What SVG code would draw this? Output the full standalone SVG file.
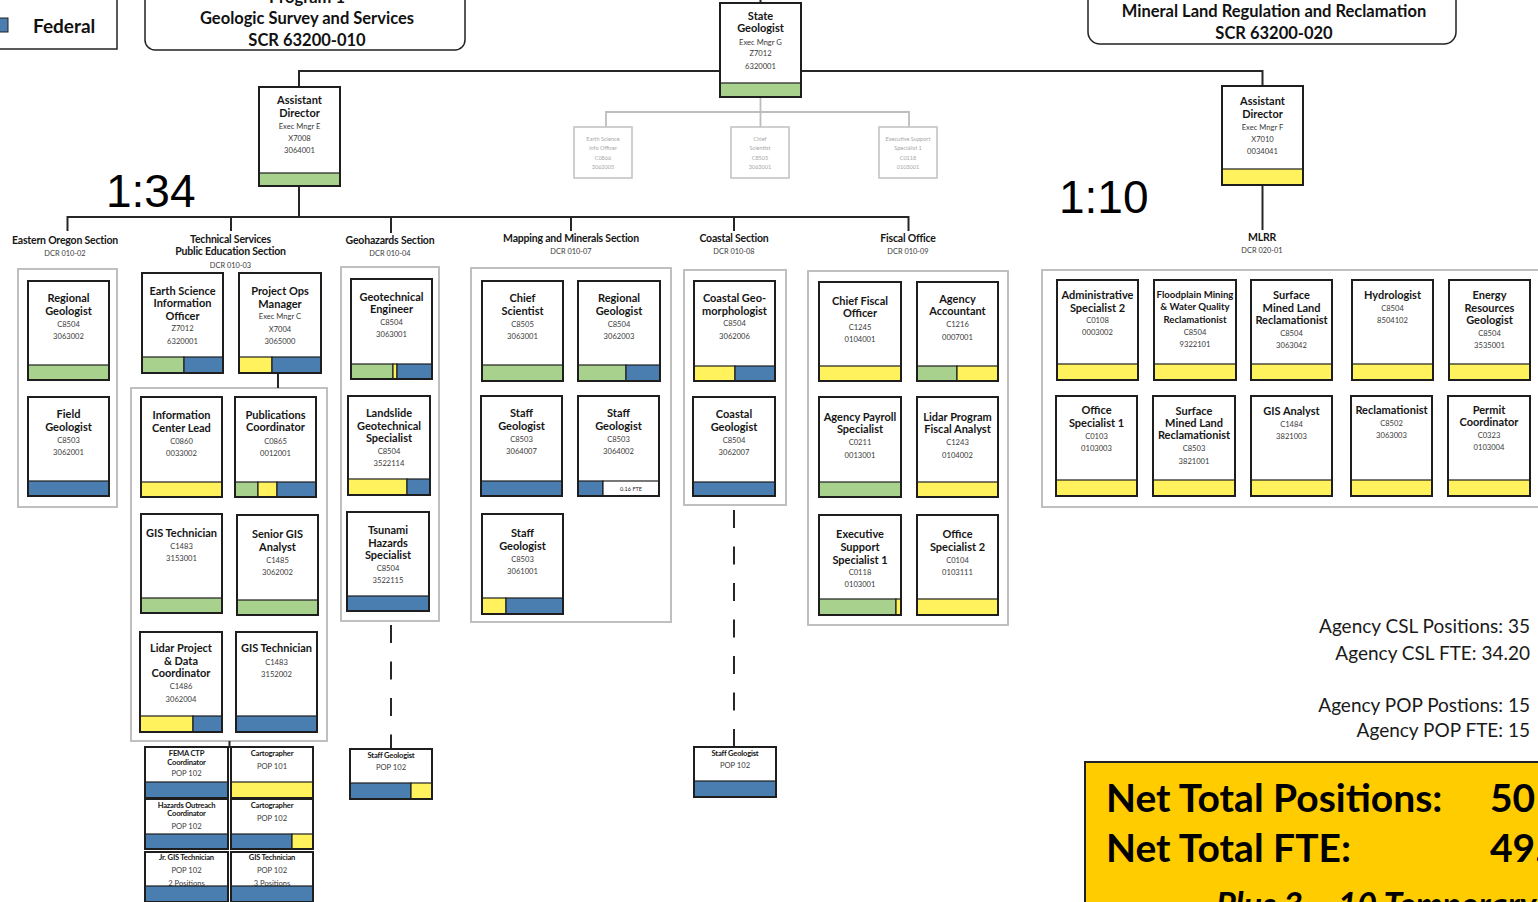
<svg xmlns="http://www.w3.org/2000/svg" width="1538" height="902" viewBox="0 0 1538 902">
<style>
text{font-family:Lato,"Liberation Sans",sans-serif}
.t{font-weight:700;font-size:11px;text-anchor:middle;fill:#161616}
.ts{font-weight:700;font-size:9.6px;text-anchor:middle;fill:#161616}
.d{font-size:7.6px;text-anchor:middle;fill:#3a3a3a}
.pt{font-weight:700;font-size:7.6px;text-anchor:middle;fill:#161616;letter-spacing:-0.2px}
.pd{font-size:7.6px;text-anchor:middle;fill:#3a3a3a}
.sec{font-weight:700;font-size:10.5px;text-anchor:middle;fill:#161616;letter-spacing:-0.2px}
.dcr{font-size:7.4px;text-anchor:middle;fill:#3a3a3a}
.gt{font-size:5.6px;text-anchor:middle;fill:#a8a8a8}
.box{fill:#fff;stroke:none}
.fr{fill:none;stroke:#1e1e1e;stroke-width:2}
.g{fill:#A9D18E;stroke:#1e1e1e;stroke-width:1.2}
.y{fill:#FFF25C;stroke:#1e1e1e;stroke-width:1.2}
.b{fill:#4A7EB0;stroke:#1e1e1e;stroke-width:1.2}
.w{fill:#fff;stroke:#1e1e1e;stroke-width:1.2}
.ct{fill:none;stroke:#BFBFBF;stroke-width:2}
.gb{fill:#fff;stroke:#c4c4c4;stroke-width:1.6}
.tot{font-size:19px;text-anchor:end;fill:#1a1a1a}
.big{font-family:"Liberation Sans",Arial,sans-serif;font-size:46px;fill:#000}
.net{font-weight:700;font-size:39px;fill:#000}
.hdr{font-weight:700;font-size:16.5px;text-anchor:middle;fill:#111}
</style>

<!-- legend & program headers -->
<g id="legend">
<rect x="-5" y="-5" width="122" height="54" fill="#fff" stroke="#222" stroke-width="1.5"/>
<rect x="-2" y="18" width="10" height="14" fill="#4A7EB0" stroke="#222" stroke-width="1"/>
<text x="33" y="33" font-weight="700" font-size="19" fill="#111">Federal</text>
</g>
<g id="program1">
<rect x="145" y="-40" width="320" height="90" rx="10" fill="#fff" stroke="#222" stroke-width="1.5"/>
<text class="hdr" x="307" y="3">Program 1</text>
<text class="hdr" x="307" y="24">Geologic Survey and Services</text>
<text class="hdr" x="307" y="46">SCR 63200-010</text>
</g>
<g id="program2">
<rect x="1088" y="-40" width="368" height="84" rx="12" fill="#fff" stroke="#222" stroke-width="1.5"/>
<text class="hdr" x="1274" y="17">Mineral Land Regulation and Reclamation</text>
<text class="hdr" x="1274" y="39">SCR 63200-020</text>
</g>

<text class="big" x="106" y="207">1:34</text>
<text class="big" x="1059" y="213">1:10</text>

<!-- section containers -->
<g id="containers">
<rect class="ct" x="18" y="269" width="99" height="238"/>
<rect class="ct" x="131" y="388" width="196" height="353"/>
<rect class="ct" x="341" y="267" width="98" height="354"/>
<rect class="ct" x="471" y="268" width="200" height="354"/>
<rect class="ct" x="684" y="270" width="102" height="235"/>
<rect class="ct" x="808" y="271" width="200" height="354"/>
<rect class="ct" x="1042" y="270" width="510" height="237"/>
</g>

<!-- connectors -->
<g id="connectors" fill="none" stroke="#262626" stroke-width="2">
<path d="M760.5 0V3"/>
<path d="M299 87V71H1262.5V86"/>
<path d="M299 186V217"/>
<path d="M67.5 231V217H908.5V231"/>
<path d="M231 217V231M391 217V233M571 217V231M734 217V231"/>
<path d="M1262.5 185V230"/>
<path d="M278 373V388"/>
<path d="M229.5 741V748"/>
<path d="M391 621V749" stroke-dasharray="18 18.5" stroke-dashoffset="32.5"/>
<path d="M734 505V747" stroke-dasharray="18 18.5" stroke-dashoffset="31.5"/>
<path d="M760.5 97V127M606 127V112H909V127" stroke="#bdbdbd" stroke-width="1.8"/>
</g>

<!-- section labels -->
<g id="section-labels">
<text class="sec" x="65" y="243.5">Eastern Oregon Section</text>
<text class="dcr" x="65" y="256">DCR 010-02</text>
<text class="sec" x="230.5" y="243">Technical Services</text>
<text class="sec" x="230.5" y="255.2">Public Education Section</text>
<text class="dcr" x="230.5" y="267.5">DCR 010-03</text>
<text class="sec" x="390" y="243.5">Geohazards Section</text>
<text class="dcr" x="390" y="256">DCR 010-04</text>
<text class="sec" x="571" y="242">Mapping and Minerals Section</text>
<text class="dcr" x="571" y="254.2">DCR 010-07</text>
<text class="sec" x="734" y="242">Coastal Section</text>
<text class="dcr" x="734" y="254.2">DCR 010-08</text>
<text class="sec" x="908" y="242">Fiscal Office</text>
<text class="dcr" x="908" y="254.2">DCR 010-09</text>
<text class="sec" x="1262" y="241">MLRR</text>
<text class="dcr" x="1262" y="252.5">DCR  020-01</text>
</g>

<!-- top level -->
<g id="state-geologist" transform="translate(720,3)"><rect class="box" width="81" height="94"/><text class="t" x="40.5" y="16.7">State</text><text class="t" x="40.5" y="29.3">Geologist</text><text class="d" x="40.5" y="41.8">Exec Mngr G</text><text class="d" x="40.5" y="53.2">Z7012</text><text class="d" x="40.5" y="65.5">6320001</text><rect class="g" y="80" width="81" height="14"/><rect class="fr" width="81" height="94"/></g>
<g id="assistant-director-e" transform="translate(259,87)"><rect class="box" width="81" height="99"/><text class="t" x="40.5" y="17">Assistant</text><text class="t" x="40.5" y="29.7">Director</text><text class="d" x="40.5" y="41.5">Exec Mngr E</text><text class="d" x="40.5" y="54.2">X7008</text><text class="d" x="40.5" y="66.2">3064001</text><rect class="g" y="86" width="81" height="13"/><rect class="fr" width="81" height="99"/></g>
<g id="assistant-director-f" transform="translate(1222,86)"><rect class="box" width="81" height="99"/><text class="t" x="40.5" y="19">Assistant</text><text class="t" x="40.5" y="31.7">Director</text><text class="d" x="40.5" y="43.5">Exec Mngr F</text><text class="d" x="40.5" y="55.8">X7010</text><text class="d" x="40.5" y="68.2">0034041</text><rect class="y" y="83" width="81" height="16"/><rect class="fr" width="81" height="99"/></g>

<g id="gray-earth-science" transform="translate(574,127)"><rect class="gb" width="58" height="51"/><text class="gt" x="29" y="14.3">Earth Science</text><text class="gt" x="29" y="23.3">Info Officer</text><text class="gt" x="29" y="32.7">C0866</text><text class="gt" x="29" y="42.3">3062005</text></g>
<g id="gray-chief-scientist" transform="translate(731,127)"><rect class="gb" width="58" height="51"/><text class="gt" x="29" y="14.3">Chief</text><text class="gt" x="29" y="23.3">Scientist</text><text class="gt" x="29" y="32.7">C8505</text><text class="gt" x="29" y="42.3">3063001</text></g>
<g id="gray-exec-support" transform="translate(879,127)"><rect class="gb" width="58" height="51"/><text class="gt" x="29" y="14.3">Executive Support</text><text class="gt" x="29" y="23.3">Specialist 1</text><text class="gt" x="29" y="32.7">C0118</text><text class="gt" x="29" y="42.3">0103001</text></g>

<!-- Eastern Oregon -->
<g id="eo-regional-geologist" transform="translate(28,281)"><rect class="box" width="81" height="99"/><text class="t" x="40.5" y="21">Regional</text><text class="t" x="40.5" y="33.5">Geologist</text><text class="d" x="40.5" y="46">C8504</text><text class="d" x="40.5" y="58">3063002</text><rect class="g" y="84" width="81" height="15"/><rect class="fr" width="81" height="99"/></g>
<g id="eo-field-geologist" transform="translate(28,397)"><rect class="box" width="81" height="99"/><text class="t" x="40.5" y="21">Field</text><text class="t" x="40.5" y="34.3">Geologist</text><text class="d" x="40.5" y="45.5">C8503</text><text class="d" x="40.5" y="57.8">3062001</text><rect class="b" y="84" width="81" height="15"/><rect class="fr" width="81" height="99"/></g>

<!-- Technical Services -->
<g id="ts-earth-science-info-officer" transform="translate(142,273)"><rect class="box" width="81" height="100"/><text class="t" x="40.5" y="22">Earth Science</text><text class="t" x="40.5" y="34.3">Information</text><text class="t" x="40.5" y="46.7">Officer</text><text class="d" x="40.5" y="58.2">Z7012</text><text class="d" x="40.5" y="70.8">6320001</text><rect class="g" y="84" width="42" height="16"/><rect class="b" x="42" y="84" width="39" height="16"/><rect class="fr" width="81" height="100"/></g>
<g id="ts-project-ops-manager" transform="translate(239,273)"><rect class="box" width="82" height="100"/><text class="t" x="41" y="22">Project Ops</text><text class="t" x="41" y="34.7">Manager</text><text class="d" x="41" y="46.2">Exec Mngr C</text><text class="d" x="41" y="58.5">X7004</text><text class="d" x="41" y="70.8">3065000</text><rect class="y" y="84" width="33" height="16"/><rect class="b" x="33" y="84" width="49" height="16"/><rect class="fr" width="82" height="100"/></g>
<g id="ts-information-center-lead" transform="translate(141,397)"><rect class="box" width="81" height="100"/><text class="t" x="40.5" y="22">Information</text><text class="t" x="40.5" y="34.7">Center Lead</text><text class="d" x="40.5" y="46.5">C0860</text><text class="d" x="40.5" y="58.5">0033002</text><rect class="y" y="85" width="81" height="15"/><rect class="fr" width="81" height="100"/></g>
<g id="ts-publications-coordinator" transform="translate(235,397)"><rect class="box" width="81" height="100"/><text class="t" x="40.5" y="22">Publications</text><text class="t" x="40.5" y="34.3">Coordinator</text><text class="d" x="40.5" y="46.5">C0865</text><text class="d" x="40.5" y="58.5">0012001</text><rect class="g" y="85" width="23" height="15"/><rect class="y" x="23" y="85" width="19" height="15"/><rect class="b" x="42" y="85" width="39" height="15"/><rect class="fr" width="81" height="100"/></g>
<g id="ts-gis-technician-1" transform="translate(141,514)"><rect class="box" width="81" height="99"/><text class="t" x="40.5" y="22.7">GIS Technician</text><text class="d" x="40.5" y="34.5">C1483</text><text class="d" x="40.5" y="46.8">3153001</text><rect class="g" y="84" width="81" height="15"/><rect class="fr" width="81" height="99"/></g>
<g id="ts-senior-gis-analyst" transform="translate(237,515)"><rect class="box" width="81" height="100"/><text class="t" x="40.5" y="23.3">Senior GIS</text><text class="t" x="40.5" y="35.7">Analyst</text><text class="d" x="40.5" y="47.5">C1485</text><text class="d" x="40.5" y="59.8">3062002</text><rect class="g" y="85" width="81" height="15"/><rect class="fr" width="81" height="100"/></g>
<g id="ts-lidar-project-coordinator" transform="translate(140,632)"><rect class="box" width="82" height="100"/><text class="t" x="41" y="20.3">Lidar Project</text><text class="t" x="41" y="32.7">&amp; Data</text><text class="t" x="41" y="45.3">Coordinator</text><text class="d" x="41" y="57.2">C1486</text><text class="d" x="41" y="69.5">3062004</text><rect class="y" y="84" width="53" height="16"/><rect class="b" x="53" y="84" width="29" height="16"/><rect class="fr" width="82" height="100"/></g>
<g id="ts-gis-technician-2" transform="translate(236,632)"><rect class="box" width="81" height="100"/><text class="t" x="40.5" y="20.3">GIS Technician</text><text class="d" x="40.5" y="32.5">C1483</text><text class="d" x="40.5" y="44.8">3152002</text><rect class="b" y="84" width="81" height="16"/><rect class="fr" width="81" height="100"/></g>

<!-- Technical Services POP -->
<g id="pop-fema-ctp" transform="translate(145,747)"><rect class="box" width="83" height="51"/><text class="pt" x="41.5" y="9">FEMA CTP</text><text class="pt" x="41.5" y="17.5">Coordinator</text><text class="pd" x="41.5" y="28.5">POP 102</text><rect class="b" y="35" width="83" height="16"/><rect class="fr" width="83" height="51"/></g>
<g id="pop-cartographer-101" transform="translate(231,747)"><rect class="box" width="82" height="51"/><text class="pt" x="41" y="9">Cartographer</text><text class="pd" x="41" y="21.5">POP 101</text><rect class="y" y="35" width="82" height="16"/><rect class="fr" width="82" height="51"/></g>
<g id="pop-hazards-outreach" transform="translate(145,799)"><rect class="box" width="83" height="50"/><text class="pt" x="41.5" y="9">Hazards Outreach</text><text class="pt" x="41.5" y="17">Coordinator</text><text class="pd" x="41.5" y="29.5">POP 102</text><rect class="b" y="35" width="83" height="15"/><rect class="fr" width="83" height="50"/></g>
<g id="pop-cartographer-102" transform="translate(231,799)"><rect class="box" width="82" height="50"/><text class="pt" x="41" y="9">Cartographer</text><text class="pd" x="41" y="21.5">POP 102</text><rect class="b" y="35" width="61" height="15"/><rect class="y" x="61" y="35" width="21" height="15"/><rect class="fr" width="82" height="50"/></g>
<g id="pop-jr-gis-technician" transform="translate(145,852)"><rect class="box" width="83" height="50"/><text class="pt" x="41.5" y="8">Jr. GIS Technician</text><text class="pd" x="41.5" y="20.5">POP 102</text><text class="pd" x="41.5" y="33.5">2 Positions</text><rect class="b" y="34" width="83" height="16"/><rect class="fr" width="83" height="50"/></g>
<g id="pop-gis-technician" transform="translate(231,852)"><rect class="box" width="82" height="50"/><text class="pt" x="41" y="8">GIS Technician</text><text class="pd" x="41" y="20.5">POP 102</text><text class="pd" x="41" y="33.5">3 Positions</text><rect class="b" y="34" width="82" height="16"/><rect class="fr" width="82" height="50"/></g>

<!-- Geohazards -->
<g id="gh-geotechnical-engineer" transform="translate(351,279)"><rect class="box" width="81" height="100"/><text class="t" x="40.5" y="21.7">Geotechnical</text><text class="t" x="40.5" y="34.3">Engineer</text><text class="d" x="40.5" y="45.5">C8504</text><text class="d" x="40.5" y="57.5">3063001</text><rect class="g" y="85" width="42" height="15"/><rect class="y" x="42" y="85" width="4" height="15"/><rect class="b" x="46" y="85" width="35" height="15"/><rect class="fr" width="81" height="100"/></g>
<g id="gh-landslide-specialist" transform="translate(348,396)"><rect class="box" width="82" height="99"/><text class="t" x="41" y="21.3">Landslide</text><text class="t" x="41" y="33.7">Geotechnical</text><text class="t" x="41" y="46.3">Specialist</text><text class="d" x="41" y="57.8">C8504</text><text class="d" x="41" y="69.8">3522114</text><rect class="y" y="83" width="59" height="16"/><rect class="b" x="59" y="83" width="23" height="16"/><rect class="fr" width="82" height="99"/></g>
<g id="gh-tsunami-specialist" transform="translate(347,512)"><rect class="box" width="82" height="99"/><text class="t" x="41" y="22">Tsunami</text><text class="t" x="41" y="34.7">Hazards</text><text class="t" x="41" y="47.3">Specialist</text><text class="d" x="41" y="58.8">C8504</text><text class="d" x="41" y="70.8">3522115</text><rect class="b" y="84" width="82" height="15"/><rect class="fr" width="82" height="99"/></g>
<g id="pop-staff-geologist-gh" transform="translate(350,749)"><rect class="box" width="82" height="50"/><text class="pt" x="41" y="9">Staff Geologist</text><text class="pd" x="41" y="20.5">POP 102</text><rect class="b" y="34" width="61" height="16"/><rect class="y" x="61" y="34" width="21" height="16"/><rect class="fr" width="82" height="50"/></g>

<!-- Mapping and Minerals -->
<g id="mm-chief-scientist" transform="translate(482,281)"><rect class="box" width="81" height="100"/><text class="t" x="40.5" y="21.3">Chief</text><text class="t" x="40.5" y="34">Scientist</text><text class="d" x="40.5" y="45.8">C8505</text><text class="d" x="40.5" y="58.2">3063001</text><rect class="g" y="84" width="81" height="16"/><rect class="fr" width="81" height="100"/></g>
<g id="mm-regional-geologist" transform="translate(578,281)"><rect class="box" width="82" height="100"/><text class="t" x="41" y="21.3">Regional</text><text class="t" x="41" y="34">Geologist</text><text class="d" x="41" y="45.8">C8504</text><text class="d" x="41" y="58.2">3062003</text><rect class="g" y="84" width="48" height="16"/><rect class="b" x="48" y="84" width="34" height="16"/><rect class="fr" width="82" height="100"/></g>
<g id="mm-staff-geologist-a" transform="translate(481,396)"><rect class="box" width="81" height="100"/><text class="t" x="40.5" y="21.3">Staff</text><text class="t" x="40.5" y="33.7">Geologist</text><text class="d" x="40.5" y="45.5">C8503</text><text class="d" x="40.5" y="57.8">3064007</text><rect class="b" y="85" width="81" height="15"/><rect class="fr" width="81" height="100"/></g>
<g id="mm-staff-geologist-b" transform="translate(578,396)"><rect class="box" width="81" height="100"/><text class="t" x="40.5" y="21.3">Staff</text><text class="t" x="40.5" y="33.7">Geologist</text><text class="d" x="40.5" y="45.5">C8503</text><text class="d" x="40.5" y="57.8">3064002</text><rect class="b" y="85" width="25" height="15"/><rect class="w" x="25" y="85" width="56" height="15"/><text class="gt" x="53" y="94.8" style="fill:#222">0.16 FTE</text><rect class="fr" width="81" height="100"/></g>
<g id="mm-staff-geologist-c" transform="translate(482,514)"><rect class="box" width="81" height="100"/><text class="t" x="40.5" y="23.3">Staff</text><text class="t" x="40.5" y="35.7">Geologist</text><text class="d" x="40.5" y="47.5">C8503</text><text class="d" x="40.5" y="59.8">3061001</text><rect class="y" y="84" width="24" height="16"/><rect class="b" x="24" y="84" width="57" height="16"/><rect class="fr" width="81" height="100"/></g>

<!-- Coastal -->
<g id="cs-coastal-geomorphologist" transform="translate(694,281)"><rect class="box" width="81" height="100"/><text class="t" x="40.5" y="21.3">Coastal Geo-</text><text class="t" x="40.5" y="33.7">morphologist</text><text class="d" x="40.5" y="44.5">C8504</text><text class="d" x="40.5" y="57.5">3062006</text><rect class="y" y="85" width="41" height="15"/><rect class="b" x="41" y="85" width="40" height="15"/><rect class="fr" width="81" height="100"/></g>
<g id="cs-coastal-geologist" transform="translate(693,397)"><rect class="box" width="82" height="99"/><text class="t" x="41" y="21.3">Coastal</text><text class="t" x="41" y="34">Geologist</text><text class="d" x="41" y="45.5">C8504</text><text class="d" x="41" y="57.5">3062007</text><rect class="b" y="85" width="82" height="14"/><rect class="fr" width="82" height="99"/></g>
<g id="pop-staff-geologist-cs" transform="translate(694,747)"><rect class="box" width="82" height="50"/><text class="pt" x="41" y="8.7">Staff Geologist</text><text class="pd" x="41" y="20.5">POP 102</text><rect class="b" y="34" width="82" height="16"/><rect class="fr" width="82" height="50"/></g>

<!-- Fiscal -->
<g id="fo-chief-fiscal-officer" transform="translate(819,282)"><rect class="box" width="82" height="99"/><text class="t" x="41" y="23">Chief Fiscal</text><text class="t" x="41" y="35.3">Officer</text><text class="d" x="41" y="47.5">C1245</text><text class="d" x="41" y="59.8">0104001</text><rect class="y" y="84" width="82" height="15"/><rect class="fr" width="82" height="99"/></g>
<g id="fo-agency-accountant" transform="translate(917,282)"><rect class="box" width="81" height="99"/><text class="t" x="40.5" y="21">Agency</text><text class="t" x="40.5" y="33">Accountant</text><text class="d" x="40.5" y="45.2">C1216</text><text class="d" x="40.5" y="57.5">0007001</text><rect class="g" y="84" width="40" height="15"/><rect class="y" x="40" y="84" width="41" height="15"/><rect class="fr" width="81" height="99"/></g>
<g id="fo-agency-payroll-specialist" transform="translate(819,397)"><rect class="box" width="82" height="100"/><text class="t" x="41" y="24.3">Agency Payroll</text><text class="t" x="41" y="36.3">Specialist</text><text class="d" x="41" y="47.8">C0211</text><text class="d" x="41" y="60.5">0013001</text><rect class="g" y="85" width="82" height="15"/><rect class="fr" width="82" height="100"/></g>
<g id="fo-lidar-fiscal-analyst" transform="translate(917,397)"><rect class="box" width="81" height="100"/><text class="t" x="40.5" y="24.3">Lidar Program</text><text class="t" x="40.5" y="36.3">Fiscal Analyst</text><text class="d" x="40.5" y="47.8">C1243</text><text class="d" x="40.5" y="60.5">0104002</text><rect class="y" y="85" width="81" height="15"/><rect class="fr" width="81" height="100"/></g>
<g id="fo-executive-support-specialist" transform="translate(819,515)"><rect class="box" width="82" height="100"/><text class="t" x="41" y="23.3">Executive</text><text class="t" x="41" y="36">Support</text><text class="t" x="41" y="48.7">Specialist 1</text><text class="d" x="41" y="59.8">C0118</text><text class="d" x="41" y="72.2">0103001</text><rect class="g" y="84" width="77" height="16"/><rect class="y" x="77" y="84" width="5" height="16"/><rect class="fr" width="82" height="100"/></g>
<g id="fo-office-specialist-2" transform="translate(917,515)"><rect class="box" width="81" height="100"/><text class="t" x="40.5" y="23.3">Office</text><text class="t" x="40.5" y="35.7">Specialist 2</text><text class="d" x="40.5" y="47.5">C0104</text><text class="d" x="40.5" y="59.5">0103111</text><rect class="y" y="84" width="81" height="16"/><rect class="fr" width="81" height="100"/></g>

<!-- MLRR -->
<g id="ml-administrative-specialist-2" transform="translate(1057,280)"><rect class="box" width="81" height="100"/><text class="t" x="40.5" y="19">Administrative</text><text class="t" x="40.5" y="31.7">Specialist 2</text><text class="d" x="40.5" y="43.2">C0108</text><text class="d" x="40.5" y="55.2">0003002</text><rect class="y" y="84" width="81" height="16"/><rect class="fr" width="81" height="100"/></g>
<g id="ml-floodplain-reclamationist" transform="translate(1154,280)"><rect class="box" width="82" height="100"/><text class="ts" x="41" y="18">Floodplain Mining</text><text class="ts" x="41" y="30.3">&amp; Water Quality</text><text class="ts" x="41" y="42.7">Reclamationist</text><text class="d" x="41" y="54.5">C8504</text><text class="d" x="41" y="66.8">9322101</text><rect class="y" y="84" width="82" height="16"/><rect class="fr" width="82" height="100"/></g>
<g id="ml-surface-mined-reclamationist-1" transform="translate(1251,280)"><rect class="box" width="81" height="100"/><text class="t" x="40.5" y="19">Surface</text><text class="t" x="40.5" y="31.7">Mined Land</text><text class="t" x="40.5" y="44">Reclamationist</text><text class="d" x="40.5" y="55.5">C8504</text><text class="d" x="40.5" y="68.2">3063042</text><rect class="y" y="84" width="81" height="16"/><rect class="fr" width="81" height="100"/></g>
<g id="ml-hydrologist" transform="translate(1352,280)"><rect class="box" width="81" height="100"/><text class="t" x="40.5" y="19">Hydrologist</text><text class="d" x="40.5" y="30.8">C8504</text><text class="d" x="40.5" y="43.2">8504102</text><rect class="y" y="84" width="81" height="16"/><rect class="fr" width="81" height="100"/></g>
<g id="ml-energy-resources-geologist" transform="translate(1449,280)"><rect class="box" width="81" height="100"/><text class="t" x="40.5" y="19">Energy</text><text class="t" x="40.5" y="31.7">Resources</text><text class="t" x="40.5" y="44">Geologist</text><text class="d" x="40.5" y="55.5">C8504</text><text class="d" x="40.5" y="68.2">3535001</text><rect class="y" y="84" width="81" height="16"/><rect class="fr" width="81" height="100"/></g>
<g id="ml-office-specialist-1" transform="translate(1056,396)"><rect class="box" width="81" height="100"/><text class="t" x="40.5" y="18">Office</text><text class="t" x="40.5" y="30.7">Specialist 1</text><text class="d" x="40.5" y="42.5">C0103</text><text class="d" x="40.5" y="55.2">0103003</text><rect class="y" y="84" width="81" height="16"/><rect class="fr" width="81" height="100"/></g>
<g id="ml-surface-mined-reclamationist-2" transform="translate(1153,396)"><rect class="box" width="82" height="100"/><text class="t" x="41" y="18.7">Surface</text><text class="t" x="41" y="31">Mined Land</text><text class="t" x="41" y="43.3">Reclamationist</text><text class="d" x="41" y="55.2">C8503</text><text class="d" x="41" y="67.5">3821001</text><rect class="y" y="84" width="82" height="16"/><rect class="fr" width="82" height="100"/></g>
<g id="ml-gis-analyst" transform="translate(1251,396)"><rect class="box" width="81" height="100"/><text class="t" x="40.5" y="18.7">GIS Analyst</text><text class="d" x="40.5" y="30.5">C1484</text><text class="d" x="40.5" y="42.5">3821003</text><rect class="y" y="84" width="81" height="16"/><rect class="fr" width="81" height="100"/></g>
<g id="ml-reclamationist" transform="translate(1351,396)"><rect class="box" width="81" height="100"/><text class="t" x="40.5" y="17.7">Reclamationist</text><text class="d" x="40.5" y="29.5">C8502</text><text class="d" x="40.5" y="41.8">3063003</text><rect class="y" y="84" width="81" height="16"/><rect class="fr" width="81" height="100"/></g>
<g id="ml-permit-coordinator" transform="translate(1448,396)"><rect class="box" width="82" height="100"/><text class="t" x="41" y="17.7">Permit</text><text class="t" x="41" y="30">Coordinator</text><text class="d" x="41" y="41.5">C0323</text><text class="d" x="41" y="54.2">0103004</text><rect class="y" y="84" width="82" height="16"/><rect class="fr" width="82" height="100"/></g>

<!-- totals -->
<g id="totals">
<text class="tot" x="1530" y="633">Agency CSL Positions: 35</text>
<text class="tot" x="1530" y="660">Agency CSL FTE: 34.20</text>
<text class="tot" x="1530" y="712">Agency POP Postions: 15</text>
<text class="tot" x="1530" y="737">Agency POP FTE: 15</text>
<rect x="1085" y="762" width="470" height="160" fill="#FFCC00" stroke="#222" stroke-width="2"/>
<text class="net" x="1106" y="812">Net Total Positions:</text>
<text class="net" x="1490" y="812">50</text>
<text class="net" x="1106" y="862">Net Total FTE:</text>
<text class="net" x="1490" y="862">49.</text>
<text x="1216" y="917" font-weight="700" font-style="italic" font-size="34" fill="#000">Plus 3 – 10 Temporary</text>
</g>
</svg>
